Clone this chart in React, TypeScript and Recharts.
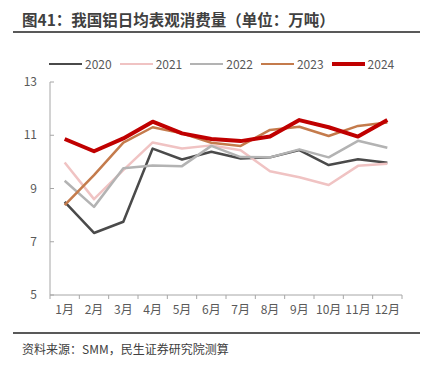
import React from "react";
import { LineChart, Line, XAxis, YAxis } from "recharts";

const months = ["1月", "2月", "3月", "4月", "5月", "6月", "7月", "8月", "9月", "10月", "11月", "12月"];

const y2020 = [8.5, 7.33, 7.75, 10.5, 10.09, 10.38, 10.13, 10.17, 10.44, 9.88, 10.1, 9.97];
const y2021 = [9.98, 8.6, 9.69, 10.73, 10.5, 10.62, 10.44, 9.65, 9.42, 9.13, 9.85, 9.93];
const y2022 = [9.29, 8.31, 9.76, 9.86, 9.84, 10.6, 10.18, 10.17, 10.47, 10.17, 10.79, 10.53];
const y2023 = [8.38, 9.5, 10.72, 11.3, 11.07, 10.72, 10.6, 11.2, 11.32, 10.97, 11.35, 11.48];
const y2024 = [10.86, 10.4, 10.88, 11.51, 11.07, 10.86, 10.78, 10.95, 11.57, 11.3, 10.95, 11.57];

const yTicks = [5, 7, 9, 11, 13];

const series = [
  { key: "2020", values: y2020, color: "#4a4a4a", width: 2.5 },
  { key: "2021", values: y2021, color: "#f0c3c3", width: 2.5 },
  { key: "2022", values: y2022, color: "#b3b3b3", width: 2.5 },
  { key: "2023", values: y2023, color: "#c47b4c", width: 2.5 },
  { key: "2024", values: y2024, color: "#c00000", width: 4 },
];

const data = months.map((m, i) => {
  const row: Record<string, string | number> = { month: m };
  series.forEach((s) => {
    row[s.key] = s.values[i];
  });
  return row;
});

const FONT = '"Noto Sans CJK SC", "Noto Sans", sans-serif';
const W = 432;
const H = 370;
const M = { top: 82, right: 30, bottom: 45, left: 0 };
const Y_W = 50;
const BAND = (W - M.right - Y_W) / months.length;
const AXIS = "#a6a6a6";
const TXT = "#595959";

const XTick = (props: any) => {
  const { x, y, payload, index } = props;
  const top = y - 10;
  return (
    <g>
      <line x1={x - BAND / 2} x2={x - BAND / 2} y1={top} y2={top + 4} stroke={AXIS} />
      {index === months.length - 1 && (
        <line x1={x + BAND / 2} x2={x + BAND / 2} y1={top} y2={top + 4} stroke={AXIS} />
      )}
      <text x={x} y={y} dy="0.71em" textAnchor="middle" fill={TXT} fontSize={12} fontFamily={FONT}>
        {payload.value}
      </text>
    </g>
  );
};

const YTick = (props: any) => {
  const { x, y, payload } = props;
  const ax = x + 13;
  return (
    <g>
      <line x1={ax} x2={ax + 4} y1={y} y2={y} stroke={AXIS} />
      <text x={x} y={y} dy="0.35em" textAnchor="end" fill={TXT} fontSize={12} fontFamily={FONT}>
        {payload.value}
      </text>
    </g>
  );
};

export default function App() {
  return (
    <div
      style={{
        position: "fixed",
        left: 0,
        top: 0,
        width: W,
        height: H,
        background: "#fff",
        fontFamily: FONT,
      }}
    >
      <div
        style={{
          position: "absolute",
          left: 22,
          top: 8,
          fontSize: 15.5,
          fontWeight: 700,
          color: "#404040",
          lineHeight: "22px",
          whiteSpace: "nowrap",
        }}
      >
        图41：我国铝日均表观消费量（单位：万吨）
      </div>
      <div style={{ position: "absolute", left: 13, top: 31, width: 407, height: 2, background: "#595959" }} />

      <div style={{ position: "absolute", left: 0, top: 0 }}>
        <LineChart width={W} height={H} data={data} margin={M}>
          <XAxis
            dataKey="month"
            stroke={AXIS}
            tickLine={false}
            tickSize={0}
            tickMargin={10}
            interval={0}
            height={30}
            padding={{ left: BAND / 2, right: BAND / 2 }}
            tick={<XTick />}
          />
          <YAxis
            domain={[5, 13]}
            ticks={yTicks}
            width={Y_W}
            stroke={AXIS}
            tickLine={false}
            tickSize={0}
            tickMargin={13}
            tick={<YTick />}
          />
          {series.map((s) => (
            <Line
              key={s.key}
              type="linear"
              dataKey={s.key}
              stroke={s.color}
              strokeWidth={s.width}
              strokeLinejoin="round"
              dot={false}
              activeDot={false}
              isAnimationActive={false}
            />
          ))}
        </LineChart>
      </div>

      <div
        style={{
          position: "absolute",
          left: 49,
          top: 55,
          display: "flex",
          alignItems: "center",
          fontSize: 12,
          color: TXT,
          lineHeight: "18px",
        }}
      >
        {series.map((s) => (
          <div key={s.key} style={{ display: "flex", alignItems: "center", marginRight: 8 }}>
            <div style={{ width: 33, height: s.width === 4 ? 4 : 2.5, background: s.color, marginRight: 3 }} />
            <span>{s.key}</span>
          </div>
        ))}
      </div>

      <div style={{ position: "absolute", left: 13, top: 332, width: 407, height: 2, background: "#595959" }} />
      <div
        style={{
          position: "absolute",
          left: 22,
          top: 340,
          fontSize: 12,
          color: "#404040",
          lineHeight: "18px",
          whiteSpace: "nowrap",
        }}
      >
        资料来源：SMM，民生证券研究院测算
      </div>
    </div>
  );
}
